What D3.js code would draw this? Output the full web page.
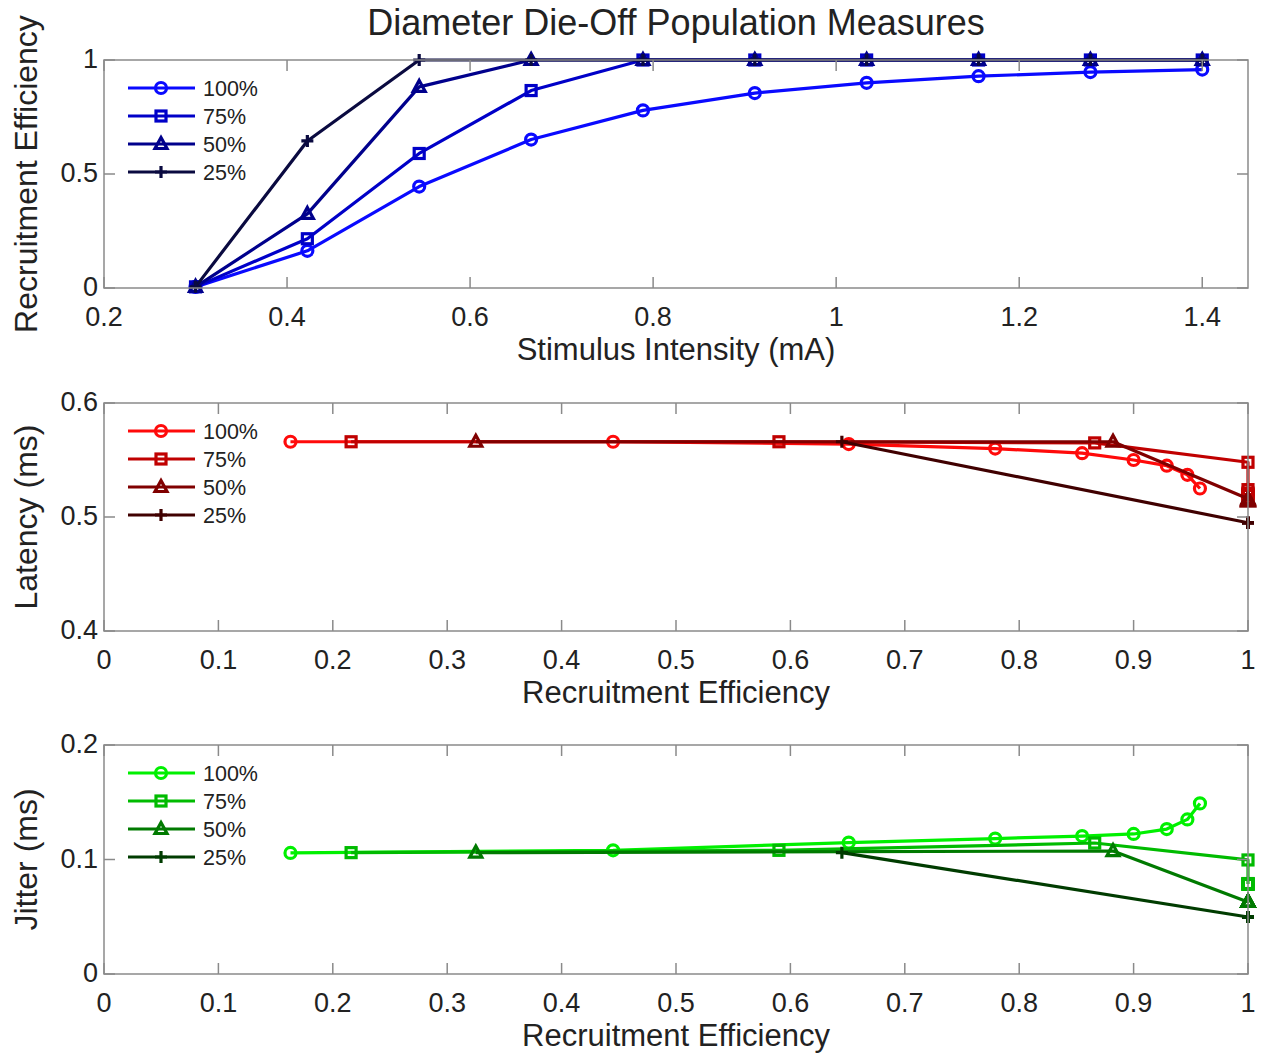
<!DOCTYPE html>
<html>
<head>
<meta charset="utf-8">
<script src="https://d3js.org/d3.v7.min.js"></script>
<style>
  body { margin: 0; background: #fff; }
  text { font-family: "Liberation Sans", Arial, sans-serif; fill: #222; }
</style>
</head>
<body>
<svg id="fig" width="1261" height="1053"></svg>
<script>
// stimulus intensities (mA)
var stim = [0.3, 0.4222, 0.5444, 0.6667, 0.7889, 0.9111, 1.0333, 1.1556, 1.2778, 1.4];
var seriesNames = ["100%", "75%", "50%", "25%"];

// recruitment efficiency per population
var re100 = [0.005, 0.163, 0.445, 0.651, 0.779, 0.855, 0.9, 0.929, 0.947, 0.958];
var re75  = [0.005, 0.216, 0.59, 0.866, 1, 1, 1, 1, 1, 1];
var re50  = [0.005, 0.325, 0.882, 1, 1, 1, 1, 1, 1, 1];
var re25  = [0.005, 0.645, 1, 1, 1, 1, 1, 1, 1, 1];

// latency (ms), null where nothing recruited
var lat100 = [null, 0.566, 0.566, 0.564, 0.560, 0.556, 0.550, 0.545, 0.537, 0.525];
var lat75  = [null, 0.566, 0.566, 0.565, 0.548, 0.524, 0.521, 0.520, 0.519, 0.519];
var lat50  = [null, 0.566, 0.566, 0.516, 0.515, 0.515, 0.514, 0.514, 0.514, 0.514];
var lat25  = [null, 0.566, 0.495, 0.495, 0.495, 0.495, 0.495, 0.495, 0.495, 0.495];

// jitter (ms)
var jit100 = [null, 0.1057, 0.108, 0.1148, 0.1183, 0.1205, 0.1223, 0.1266, 0.135, 0.149];
var jit75  = [null, 0.106, 0.108, 0.1144, 0.0996, 0.079, 0.0786, 0.0785, 0.0785, 0.0785];
var jit50  = [null, 0.106, 0.1074, 0.0629, 0.063, 0.063, 0.063, 0.063, 0.063, 0.063];
var jit25  = [null, 0.106, 0.0498, 0.0498, 0.0498, 0.0498, 0.0498, 0.0498, 0.0498, 0.0498];

var ticksTopX = [0.2, 0.4, 0.6, 0.8, 1, 1.2, 1.4];
var ticksTopY = [0, 0.5, 1];
var ticksReX = [0, 0.1, 0.2, 0.3, 0.4, 0.5, 0.6, 0.7, 0.8, 0.9, 1];
var ticksLatY = [0.4, 0.5, 0.6];
var ticksJitY = [0, 0.1, 0.2];

var blues  = ["#0a0aff", "#0000c8", "#00008c", "#0a0a40"];
var reds   = ["#ff0a0a", "#c00000", "#800000", "#400000"];
var greens = ["#00f000", "#00bb00", "#007a00", "#003c00"];
var markers = ["circle", "square", "triangle", "plus"];

var svg = d3.select("#fig");
var L = 104, R = 1248;

function fmt(v) { return String(+v.toFixed(2)); }

function drawMarker(g, type, x, y, color) {
  var m;
  if (type === "circle") {
    m = g.append("circle").attr("cx", x).attr("cy", y).attr("r", 5.5);
  } else if (type === "square") {
    m = g.append("rect").attr("x", x - 5).attr("y", y - 5).attr("width", 10).attr("height", 10);
  } else if (type === "triangle") {
    m = g.append("path").attr("d", "M" + x + "," + (y - 6.5) + "L" + (x + 6) + "," + (y + 4.5) + "L" + (x - 6) + "," + (y + 4.5) + "Z");
  } else {
    m = g.append("path").attr("d", "M" + (x - 6) + "," + y + "H" + (x + 6) + "M" + x + "," + (y - 6) + "V" + (y + 6));
  }
  m.attr("fill", "none").attr("stroke", color).attr("stroke-width", 3.2);
}

function panel(opt) {
  var x = d3.scaleLinear().domain(opt.xd).range([L, R]);
  var y = d3.scaleLinear().domain(opt.yd).range([opt.bottom, opt.top]);
  var g = svg.append("g");

  // series
  opt.xs.forEach(function(xv, i) {
    var pts = xv.map(function(v, j) { return {x: v, y: opt.ys[i][j]}; })
      .filter(function(d) { return d.y != null; });
    var line = d3.line().x(function(d) { return x(d.x); }).y(function(d) { return y(d.y); });
    g.append("path").datum(pts).attr("d", line)
      .attr("fill", "none").attr("stroke", opt.colors[i]).attr("stroke-width", 3.2)
      .attr("stroke-linejoin", "round");
    pts.forEach(function(d) { drawMarker(g, markers[i], x(d.x), y(d.y), opt.colors[i]); });
  });

  // box
  g.append("rect").attr("x", L).attr("y", opt.top).attr("width", R - L).attr("height", opt.bottom - opt.top)
    .attr("fill", "none").attr("stroke", "#8a8a8a").attr("stroke-width", 1.5);

  // inward ticks on all four sides
  var ax = g.append("g").attr("stroke", "#8a8a8a").attr("stroke-width", 1.5);
  opt.xt.forEach(function(t) {
    ax.append("line").attr("x1", x(t)).attr("x2", x(t)).attr("y1", opt.bottom).attr("y2", opt.bottom - 11);
    ax.append("line").attr("x1", x(t)).attr("x2", x(t)).attr("y1", opt.top).attr("y2", opt.top + 11);
  });
  opt.yt.forEach(function(t) {
    ax.append("line").attr("x1", L).attr("x2", L + 11).attr("y1", y(t)).attr("y2", y(t));
    ax.append("line").attr("x1", R).attr("x2", R - 11).attr("y1", y(t)).attr("y2", y(t));
  });

  g.selectAll(".xtl").data(opt.xt).enter().append("text")
    .attr("x", function(d) { return x(d); }).attr("y", opt.bottom + 38)
    .attr("text-anchor", "middle").attr("font-size", 27).text(fmt);
  g.selectAll(".ytl").data(opt.yt).enter().append("text")
    .attr("x", L - 6).attr("y", function(d) { return y(d) + 8; })
    .attr("text-anchor", "end").attr("font-size", 27).text(fmt);

  g.append("text").attr("x", (L + R) / 2).attr("y", opt.bottom + 72)
    .attr("text-anchor", "middle").attr("font-size", 31).text(opt.xlabel);
  g.append("text").attr("transform", "translate(37," + ((opt.top + opt.bottom) / 2) + ") rotate(-90)")
    .attr("text-anchor", "middle").attr("font-size", 32).text(opt.ylabel);

  // legend
  seriesNames.forEach(function(name, i) {
    var ly = opt.top + 28 + i * 28;
    g.append("line").attr("x1", 128).attr("x2", 195).attr("y1", ly).attr("y2", ly)
      .attr("stroke", opt.colors[i]).attr("stroke-width", 3.2);
    drawMarker(g, markers[i], 161, ly, opt.colors[i]);
    g.append("text").attr("x", 203).attr("y", ly + 8).attr("font-size", 21.5).text(name);
  });
}

svg.append("text").attr("x", 676).attr("y", 35).attr("text-anchor", "middle")
  .attr("font-size", 36).text("Diameter Die-Off Population Measures");

panel({
  xd: [0.2, 1.45], yd: [0, 1], top: 60, bottom: 288,
  xs: [stim, stim, stim, stim], ys: [re100, re75, re50, re25],
  xt: ticksTopX, yt: ticksTopY, colors: blues,
  xlabel: "Stimulus Intensity (mA)", ylabel: "Recruitment Efficiency"
});
panel({
  xd: [0, 1], yd: [0.4, 0.6], top: 403, bottom: 631,
  xs: [re100, re75, re50, re25], ys: [lat100, lat75, lat50, lat25],
  xt: ticksReX, yt: ticksLatY, colors: reds,
  xlabel: "Recruitment Efficiency", ylabel: "Latency (ms)"
});
panel({
  xd: [0, 1], yd: [0, 0.2], top: 745, bottom: 974,
  xs: [re100, re75, re50, re25], ys: [jit100, jit75, jit50, jit25],
  xt: ticksReX, yt: ticksJitY, colors: greens,
  xlabel: "Recruitment Efficiency", ylabel: "Jitter (ms)"
});
</script>
</body>
</html>
